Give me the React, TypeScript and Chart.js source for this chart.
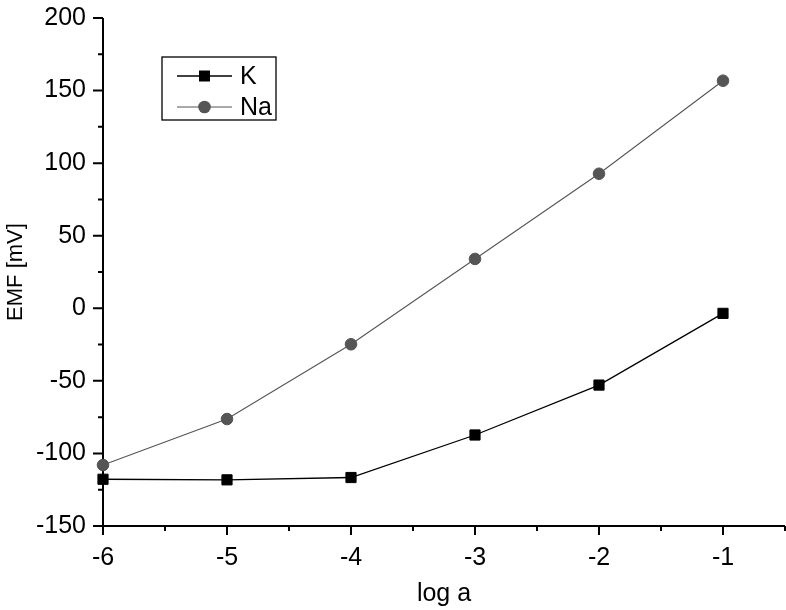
import React, { useEffect, useRef } from 'react';
import { Chart, registerables } from 'chart.js';

Chart.register(...registerables);

// ---- data ----
const xValues = [-6, -5, -4, -3, -2, -1];
const kValues = [-117.8, -118.2, -116.6, -87.3, -52.9, -3.5];
const naValues = [-108.0, -76.3, -24.8, 34.0, 92.7, 156.8];
const seriesLabels = ['K', 'Na'];

// ---- axes ----
const xTicks = [-6, -5, -4, -3, -2, -1];
const xMinorTicks = [-5.5, -4.5, -3.5, -2.5, -1.5, -0.5];
const yTicks = [-150, -100, -50, 0, 50, 100, 150, 200];
const yMinorTicks = [-125, -75, -25, 25, 75, 125, 175];
const xTitle = 'log a';
const yTitle = 'EMF [mV]';

const FONT = "'Liberation Sans', Arial, Helvetica, sans-serif";
const K_COLOR = '#000000';
const NA_COLOR = '#555555';

const zeroPadding = () => ({ left: 0, top: 0, right: 0, bottom: 0 });

const axesPlugin = {
  id: 'originAxes',
  beforeDatasetsDraw(chart: any) {
    const { ctx, chartArea: a, scales } = chart;
    const xs = scales.x;
    const ys = scales.y;
    ctx.save();
    ctx.strokeStyle = '#000';
    ctx.lineWidth = 2;
    ctx.lineCap = 'butt';
    ctx.beginPath();
    ctx.moveTo(a.left, a.top);
    ctx.lineTo(a.left, a.bottom + 1);
    ctx.moveTo(a.left - 1, a.bottom);
    ctx.lineTo(a.right, a.bottom);
    for (const v of yTicks) {
      const y = ys.getPixelForValue(v);
      ctx.moveTo(a.left - 10, y);
      ctx.lineTo(a.left, y);
    }
    for (const v of yMinorTicks) {
      const y = ys.getPixelForValue(v);
      ctx.moveTo(a.left - 5, y);
      ctx.lineTo(a.left, y);
    }
    for (const v of xTicks) {
      const x = xs.getPixelForValue(v);
      ctx.moveTo(x, a.bottom);
      ctx.lineTo(x, a.bottom + 9);
    }
    for (const v of xMinorTicks) {
      const x = xs.getPixelForValue(v);
      ctx.moveTo(x, a.bottom);
      ctx.lineTo(x, a.bottom + 5);
    }
    ctx.stroke();
    ctx.restore();
  },
  afterDraw(chart: any) {
    const { ctx, chartArea: a } = chart;
    const lx = a.left + 59;
    const ly = a.top + 39;
    const w = 114;
    const h = 63;
    ctx.save();
    ctx.strokeStyle = '#000';
    ctx.lineWidth = 1.3;
    ctx.strokeRect(lx, ly, w, h);
    const rows = [
      { y: ly + 19, color: K_COLOR, lw: 1.3, shape: 'rect', label: seriesLabels[0] },
      { y: ly + 50, color: NA_COLOR, lw: 1.1, shape: 'circle', label: seriesLabels[1] },
    ];
    for (const r of rows) {
      ctx.strokeStyle = r.color;
      ctx.lineWidth = r.lw;
      ctx.beginPath();
      ctx.moveTo(lx + 15, r.y);
      ctx.lineTo(lx + 70, r.y);
      ctx.stroke();
      ctx.fillStyle = r.color;
      const mx = lx + 42.5;
      if (r.shape === 'rect') {
        ctx.fillRect(mx - 5.5, r.y - 5.5, 11, 11);
      } else {
        ctx.beginPath();
        ctx.arc(mx, r.y, 6.3, 0, Math.PI * 2);
        ctx.fill();
      }
      ctx.fillStyle = '#000';
      ctx.font = `25px ${FONT}`;
      ctx.textAlign = 'left';
      ctx.textBaseline = 'middle';
      ctx.fillText(r.label, lx + 78, r.y + 1);
    }
    ctx.restore();
  },
};

export default function App() {
  const canvasRef = useRef<HTMLCanvasElement | null>(null);

  useEffect(() => {
    const canvas = canvasRef.current;
    if (!canvas) return;
    const tickFont = { family: FONT, size: 25 };
    const chart = new Chart(canvas, {
      type: 'line',
      data: {
        datasets: [
          {
            label: seriesLabels[0],
            data: xValues.map((x, i) => ({ x, y: kValues[i] })),
            borderColor: K_COLOR,
            backgroundColor: K_COLOR,
            borderWidth: 1.3,
            pointStyle: 'rect',
            pointRadius: 7.2,
            pointBorderWidth: 1,
            pointBorderColor: K_COLOR,
            pointBackgroundColor: K_COLOR,
            tension: 0,
            clip: false,
          },
          {
            label: seriesLabels[1],
            data: xValues.map((x, i) => ({ x, y: naValues[i] })),
            borderColor: NA_COLOR,
            backgroundColor: NA_COLOR,
            borderWidth: 1.1,
            pointStyle: 'circle',
            pointRadius: 5.8,
            pointBorderWidth: 1,
            pointBorderColor: NA_COLOR,
            pointBackgroundColor: NA_COLOR,
            tension: 0,
            clip: false,
          },
        ],
      },
      options: {
        responsive: false,
        animation: false,
        events: [],
        layout: { autoPadding: false, padding: { top: 18, right: 1, left: 0, bottom: 0 } },
        plugins: {
          legend: { display: false },
          tooltip: { enabled: false },
        },
        scales: {
          x: {
            type: 'linear',
            min: -6,
            max: -0.5,
            beforeUpdate: (s: any) => {
              s.getPadding = zeroPadding;
            },
            afterBuildTicks: (s: any) => {
              s.ticks = xTicks.map((v) => ({ value: v }));
            },
            afterFit: (s: any) => {
              s.height = 84;
              s.paddingLeft = 0;
              s.paddingRight = 0;
            },
            grid: { display: false, drawTicks: false },
            border: { display: false },
            ticks: {
              padding: 17,
              color: '#000',
              font: tickFont,
              maxRotation: 0,
              autoSkip: false,
              callback: (v: any) => String(v),
            },
            title: {
              display: true,
              text: xTitle,
              color: '#000',
              font: { family: FONT, size: 25 },
              padding: { top: 0, bottom: 1 },
            },
          },
          y: {
            type: 'linear',
            min: -150,
            max: 200,
            beforeUpdate: (s: any) => {
              s.getPadding = zeroPadding;
            },
            afterBuildTicks: (s: any) => {
              s.ticks = yTicks.map((v) => ({ value: v }));
            },
            afterFit: (s: any) => {
              s.width = 103;
              s.paddingTop = 0;
              s.paddingBottom = 0;
            },
            grid: { display: false, drawTicks: false },
            border: { display: false },
            ticks: {
              padding: 17,
              color: '#000',
              font: tickFont,
              autoSkip: false,
              callback: (v: any) => String(v),
            },
            title: {
              display: true,
              text: yTitle,
              color: '#000',
              font: { family: FONT, size: 22 },
              padding: { top: 2.5, bottom: 0 },
            },
          },
        },
      },
      plugins: [axesPlugin],
    } as any);
    return () => chart.destroy();
  }, []);

  return (
    <div style={{ position: 'fixed', left: 0, top: 0, width: 786, height: 610, background: '#fff' }}>
      <canvas ref={canvasRef} width={786} height={610} style={{ display: 'block' }} />
    </div>
  );
}
